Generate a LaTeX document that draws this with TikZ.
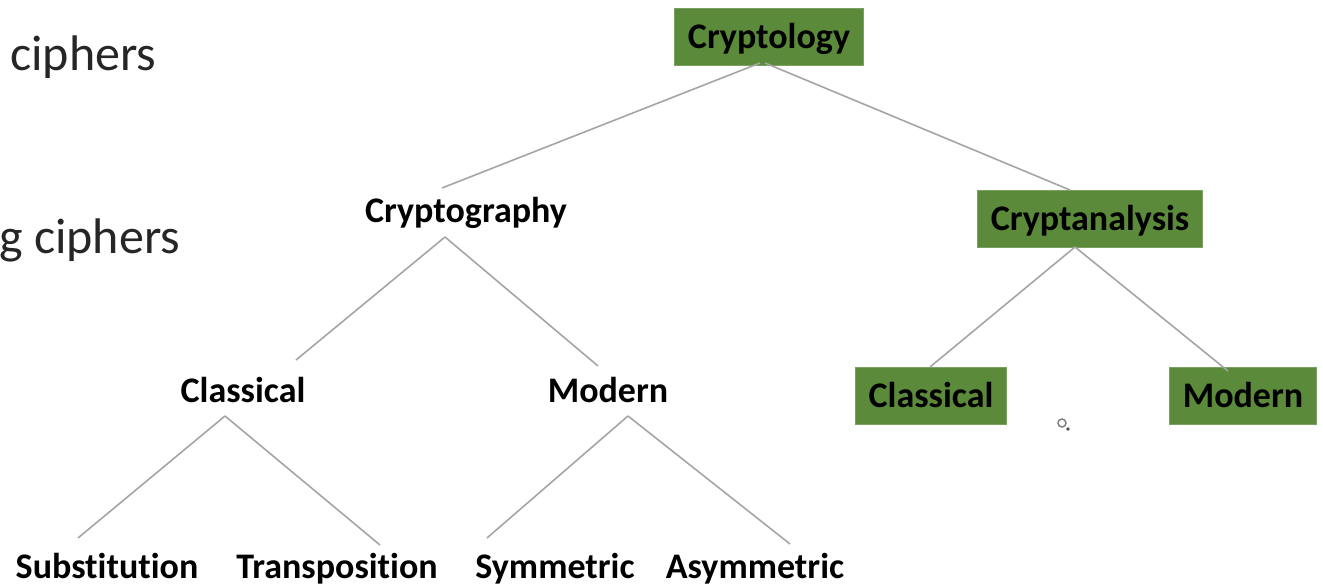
\documentclass[tikz,border=0pt]{standalone}
\usepackage{fontspec}
\setmainfont{Carlito}[Ligatures={NoCommon}]
\usetikzlibrary{calc}
\definecolor{boxgreen}{RGB}{90,138,58}
\definecolor{linegray}{RGB}{165,165,165}
\tikzset{
  lbl/.style={font=\fontsize{36}{40}\selectfont\bfseries, text=black, inner sep=0pt, text height=30pt, text depth=7pt},
  gbox/.style={lbl, fill=boxgreen, draw=boxgreen!80!white, line width=1pt, minimum height=57pt, inner xsep=13pt},
  conn/.style={draw=linegray, line width=1.6pt},
  side/.style={font=\fontsize{50}{54}\selectfont, text=black!85, inner sep=0pt, anchor=west}
}
\begin{document}
\begin{tikzpicture}[x=1pt,y=-1pt]
\useasboundingbox (0,0) rectangle (1323,586);
\node[side] (t1) at (10,57) {ciphers};
\node[side] (t2) at (-1,240) {g ciphers};
\node[gbox] (ctl) at (769,37) {Cryptology};
\node[lbl] (cg) at (466,211) {Cryptography};
\node[gbox] (ca) at (1090,219) {Cryptanalysis};
\node[lbl] (cl1) at (243,391) {Classical};
\node[lbl] (mo1) at (608,391) {Modern};
\node[gbox] (cl2) at (931,396) {Classical};
\node[gbox] (mo2) at (1243,396) {Modern};
\node[lbl] (sub) at (107,567) {Substitution};
\node[lbl] (tra) at (337,567) {Transposition};
\node[lbl] (sym) at (555,567) {Symmetric};
\node[lbl] (asy) at (755,567) {Asymmetric};
% connectors
\draw[conn] ($(ctl)+(-9,26)$) -- ($(cg)+(-24,-23)$);
\draw[conn] ($(ctl)+(-4,26)$) -- ($(ca)+(-20,-29)$);
\draw[conn] ($(cg)+(-21,26)$) -- ($(cl1)+(53,-31)$);
\draw[conn] ($(cg)+(-21,26)$) -- ($(mo1)+(-10,-25)$);
\draw[conn] ($(cl1)+(-18,25)$) -- ($(sub)+(-29,-29)$);
\draw[conn] ($(cl1)+(-18,25)$) -- ($(tra)+(43,-22)$);
\draw[conn] ($(mo1)+(20,25)$) -- ($(sym)+(-68,-29)$);
\draw[conn] ($(mo1)+(20,25)$) -- ($(asy)+(35,-23)$);
\draw[conn] ($(ca)+(-15,28)$) -- ($(cl2)+(-1,-29)$);
\draw[conn] ($(ca)+(-15,28)$) -- ($(mo2)+(-15,-25)$);
% cursor
\draw[gray, line width=1.5pt] (1062,423) circle (4pt);
\fill[gray!60!black] (1068,429) circle (1.8pt);
\end{tikzpicture}
\end{document}
